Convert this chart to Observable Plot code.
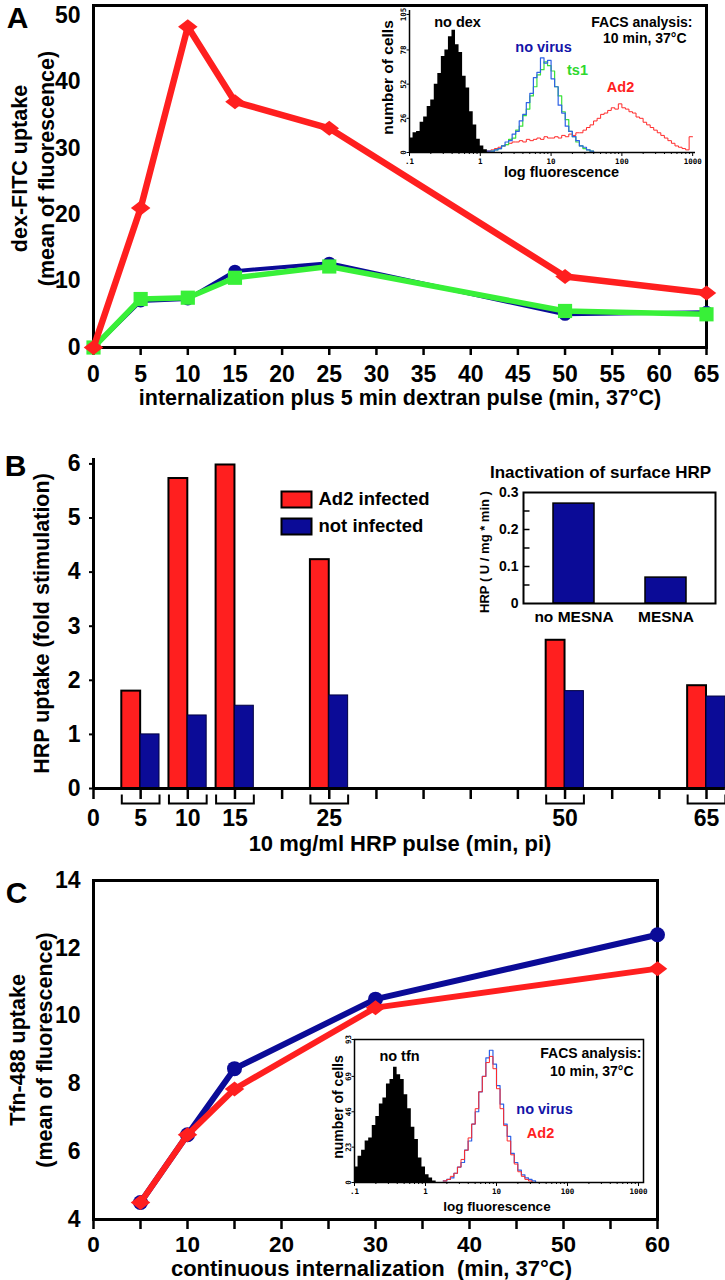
<!DOCTYPE html>
<html><head><meta charset="utf-8">
<script src="https://cdn.jsdelivr.net/npm/d3@7"></script>
<script src="https://cdn.jsdelivr.net/npm/@observablehq/plot@0.6"></script>
<style>
body{margin:0;background:#fff;}
#fig{position:relative;width:725px;height:1280px;overflow:hidden;background:#fff;}
#fig svg{position:absolute;}
</style></head><body><div id="fig"></div>
<script>
// ---------- Panel A data ----------
const timesA = [0, 5, 10, 15, 25, 50, 65];
const ad2A = [0, 21, 48.3, 37, 33, 10.7, 8.2];
const noVirusA = [0, 7, 7.3, 11.5, 12.7, 5, 5.3];
const ts1A = [0, 7.3, 7.5, 10.5, 12.2, 5.5, 5];
const xTicksA = d3.range(0, 66, 5);
const yTicksA = [0, 10, 20, 30, 40, 50];
const titleAx = "internalization plus 5 min dextran pulse (min, 37°C)";
const titleAy = "dex-FITC uptake\n(mean of fluorescence)";

// Panel A inset: FACS histogram counts per channel (20 channels per decade, channel 0 = 0.1)
const histA_noDex_start = 0;
const histA_noDex = [11,15,16,23,27,35,40,52,60,73,78,88,93,82,76,58,49,31,21,10,5,2,1,0];
const histA_noVirus_start = 22;
const histA_noVirus = [1,1,2,3,5,8,9,14,16,24,29,38,45,57,61,72,68,70,56,50,36,30,20,16,12,9,5,4,2,1,0];
const histA_ts1_start = 23;
const histA_ts1 = [1,2,3,5,6,10,11,17,20,28,33,43,50,59,63,69,66,62,50,43,31,25,16,12,8,5,3,2,1,0];
const histA_ad2_start = 22;
const histA_ad2 = [1,2,3,4,5,6,7,8,8,9,8,10,9,10,11,10,12,11,
  11,12,11,13,12,14,13,15,15,17,19,21,24,26,29,30,32,34,33,37,34,33,31,30,27,26,23,21,19,17,15,13,11,9,7,5,4,3,2,12];
const histA_yTicks = [0, 26, 52, 78, 105];
const histDecadeLabels = [".1", "1", "10", "100", "1000"];

// ---------- Panel B data ----------
const timesB = [5, 10, 15, 25, 50, 65];
const ad2B = [1.8, 5.73, 5.98, 4.23, 2.74, 1.9];
const notInfB = [1.0, 1.35, 1.53, 1.72, 1.8, 1.7];
const xTicksB = d3.range(0, 66, 5);
const xLabelsB = [0, 5, 10, 15, 25, 50, 65];
const yTicksB = [0, 1, 2, 3, 4, 5, 6];
const legendB = ["Ad2 infected", "not infected"];
const titleBx = "10 mg/ml HRP pulse (min, pi)";
const titleBy = "HRP uptake (fold stimulation)";
const insetB_cats = ["no MESNA", "MESNA"];
const insetB_vals = [0.27, 0.07];
const insetB_yTicks = [0, 0.1, 0.2, 0.3];
const insetB_minorTicks = [0.05, 0.1, 0.15, 0.2, 0.25];
const insetB_title = "Inactivation of surface HRP";
const insetB_ylabel = "HRP ( U / mg * min )";

// ---------- Panel C data ----------
const timesC = [5, 10, 15, 30, 60];
const noVirusC = [4.5, 6.5, 8.45, 10.5, 12.4];
const ad2C = [4.5, 6.5, 7.85, 10.25, 11.4];
const xTicksC = d3.range(0, 61, 5);
const xLabelsC = [0, 10, 20, 30, 40, 50, 60];
const yTicksC = [4, 6, 8, 10, 12, 14];
const titleCx = "continuous internalization  (min, 37°C)";
const titleCy = "Tfn-488 uptake\n(mean of fluorescence)";
const histC_noTfn_start = 0;
const histC_noTfn = [10,17,21,27,29,37,43,51,55,64,67,75,70,67,57,48,36,28,16,10,5,3,1,0];
const histC_noVirus_start = 25;
const histC_noVirus = [1,2,3,6,10,13,21,27,38,46,59,69,81,86,77,63,51,38,30,19,13,8,5,3,2,1,0];
const histC_ad2_start = 25;
const histC_ad2 = [1,2,4,6,10,15,21,29,38,48,59,69,78,82,74,61,48,37,27,18,12,7,4,2,1,0];
const histC_yTicks = [0, 23, 46, 69, 93];

// ---------- styling ----------
const FONT = "'Liberation Sans', Arial, Helvetica, sans-serif";
const MONO = "'DejaVu Sans Mono', 'Liberation Mono', monospace";
const RED = "#ff1f1f", NAVY = "#0b0b97", GREEN = "#38f038";
const HRED = "#ff2a2a", HBLUE = "#2f62e6", HGREEN = "#3ae23a";
const baseStyle = {fontFamily: FONT, fontWeight: "bold", background: "transparent", overflow: "visible", fontSize: "14px", color: "black"};

const wideDiamond = {draw(ctx, size) {
  const r = Math.sqrt(size / Math.PI);
  ctx.moveTo(-1.3 * r, 0); ctx.lineTo(0, -r); ctx.lineTo(1.3 * r, 0); ctx.lineTo(0, r); ctx.closePath();
}};
const innerTick = {draw(ctx) { ctx.moveTo(0, 0); ctx.lineTo(6, 0); }};

const fig = document.getElementById("fig");
function place(svg, left, top) { svg.style.left = left + "px"; svg.style.top = top + "px"; fig.appendChild(svg); }

function steps(start, counts) {
  const pts = counts.map((n, i) => ({ch: start + i, n}));
  pts.push({ch: start + counts.length, n: counts[counts.length - 1]});
  return pts;
}
const decadeChannels = [0, 20, 40, 60, 80];
const minorChannels = [];
for (let d = 0; d < 4; d++) for (let k = 2; k <= 9; k++) minorChannels.push(20 * (d + Math.log10(k)));
const plain = d => String(d);

// ---------- Panel A ----------
const dataA = timesA.map((t, i) => ({t, ad2: ad2A[i], nv: noVirusA[i], ts1: ts1A[i]}));
place(Plot.plot({
  width: 725, height: 420,
  marginLeft: 93, marginRight: 19, marginTop: 5, marginBottom: 73,
  x: {domain: [0, 65], label: null}, y: {domain: [0, 51.5], label: null},
  style: baseStyle,
  marks: [
    Plot.frame({stroke: "black", strokeWidth: 3}),
    Plot.axisX({ticks: xTicksA, tickSize: 8, strokeWidth: 2.5, tickFormat: () => "", label: null}),
    Plot.axisX({ticks: xTicksA, tickSize: 0, tickPadding: 18, fontSize: 23, tickFormat: plain, label: null}),
    Plot.axisY({ticks: yTicksA, tickSize: 0, tickPadding: 13, fontSize: 23, tickFormat: plain, label: null}),
    Plot.line(dataA, {x: "t", y: "nv", stroke: NAVY, strokeWidth: 4}),
    Plot.dot(dataA, {x: "t", y: "nv", r: 6.5, fill: NAVY}),
    Plot.line(dataA, {x: "t", y: "ts1", stroke: GREEN, strokeWidth: 5.5}),
    Plot.dot(dataA, {x: "t", y: "ts1", r: 8, symbol: "square", fill: GREEN}),
    Plot.line(dataA, {x: "t", y: "ad2", stroke: RED, strokeWidth: 6.5}),
    Plot.dot(dataA, {x: "t", y: "ad2", r: 7.5, symbol: wideDiamond, fill: RED}),
    Plot.text([titleAx], {frameAnchor: "bottom", dy: 51, fontSize: 21.5, lineAnchor: "middle"}),
    Plot.text([titleAy], {frameAnchor: "left", rotate: -90, dx: -62, dy: -8, fontSize: 21.5, textAnchor: "middle", lineAnchor: "middle", lineHeight: 1.25}),
    Plot.text(["A"], {frameAnchor: "top-left", dx: -76, dy: 13, fontSize: 30, textAnchor: "middle", lineAnchor: "middle"})
  ]
}), 0, 0);

// Panel A inset
place(Plot.plot({
  width: 365, height: 185,
  marginLeft: 49, marginRight: 30, marginTop: 10, marginBottom: 33,
  x: {domain: [0, 80.8], label: null}, y: {domain: [0, 108], label: null},
  style: baseStyle,
  marks: [
    Plot.areaY(steps(histA_noDex_start, histA_noDex), {x: "ch", y: "n", curve: "step-after", fill: "black"}),
    Plot.lineY(steps(histA_ad2_start, histA_ad2), {x: "ch", y: "n", curve: "step-after", stroke: HRED, strokeWidth: 1}),
    Plot.lineY(steps(histA_ts1_start, histA_ts1), {x: "ch", y: "n", curve: "step-after", stroke: HGREEN, strokeWidth: 1.2}),
    Plot.lineY(steps(histA_noVirus_start, histA_noVirus), {x: "ch", y: "n", curve: "step-after", stroke: HBLUE, strokeWidth: 1.2}),
    Plot.ruleY([0], {strokeWidth: 1.5}),
    Plot.ruleX([0], {strokeWidth: 1.5}),
    Plot.axisX({ticks: minorChannels, tickSize: 2, tickFormat: () => "", label: null}),
    Plot.axisX({ticks: decadeChannels, tickSize: 4, tickPadding: 2, fontSize: 7.5, fontFamily: MONO, tickFormat: d => histDecadeLabels[decadeChannels.indexOf(d)], label: null}),
    Plot.axisY({ticks: histA_yTicks, tickSize: 2.5, tickPadding: 1, tickRotate: -90, fontSize: 7.5, fontFamily: MONO, tickFormat: plain, label: null}),
    Plot.text(["no dex"], {frameAnchor: "top-left", dx: 48, dy: 12, fontSize: 14.5, textAnchor: "middle", lineAnchor: "middle"}),
    Plot.text(["FACS analysis:"], {frameAnchor: "top-right", dx: -3, dy: 12, fontSize: 14, textAnchor: "end", lineAnchor: "middle"}),
    Plot.text(["10 min, 37°C"], {frameAnchor: "top-right", dx: -9, dy: 28, fontSize: 14, textAnchor: "end", lineAnchor: "middle"}),
    Plot.text(["no virus"], {frameAnchor: "top-left", dx: 134, dy: 37, fontSize: 14.5, fill: "#1414a8", textAnchor: "middle", lineAnchor: "middle"}),
    Plot.text(["ts1"], {frameAnchor: "top-left", dx: 168, dy: 60, fontSize: 14.5, fill: "#2ed82e", textAnchor: "middle", lineAnchor: "middle"}),
    Plot.text(["Ad2"], {frameAnchor: "top-left", dx: 211, dy: 77, fontSize: 14.5, fill: RED, textAnchor: "middle", lineAnchor: "middle"}),
    Plot.text(["number of cells"], {frameAnchor: "left", rotate: -90, dx: -21, dy: -4, fontSize: 15.5, textAnchor: "middle", lineAnchor: "middle"}),
    Plot.text(["log fluorescence"], {frameAnchor: "bottom", dx: 9, dy: 20, fontSize: 14.5, textAnchor: "middle", lineAnchor: "middle"})
  ]
}), 360, 0);

// ---------- Panel B ----------
const barW = 2; // minutes
const dataB = timesB.map((t, i) => ({t, ad2: ad2B[i], ni: notInfB[i]}));
const pxPerMin = (725 - 93 - 19) / 65;
const bracket = {draw(ctx) {
  const w = barW * pxPerMin;
  ctx.moveTo(-w, -9); ctx.lineTo(-w, 0); ctx.lineTo(w, 0); ctx.lineTo(w, -9);
}};
const swatch = {draw(ctx) { ctx.rect(-15, -8, 30, 16); }};
place(Plot.plot({
  width: 725, height: 440,
  marginLeft: 93, marginRight: 19, marginTop: 38, marginBottom: 72,
  x: {domain: [0, 65], label: null}, y: {domain: [0, 6.1], label: null},
  style: baseStyle,
  marks: [
    Plot.rectY(dataB, {x1: d => d.t - barW, x2: "t", y: "ad2", fill: RED, stroke: "black", strokeWidth: 2}),
    Plot.rectY(dataB, {x1: "t", x2: d => d.t + barW, y: "ni", fill: NAVY, stroke: "#000040", strokeWidth: 1}),
    Plot.ruleY([0], {x1: 0, x2: timesB[timesB.length - 1] + barW, strokeWidth: 3}),
    Plot.ruleX([0], {strokeWidth: 3}),
    Plot.axisX({ticks: xTicksB, tickSize: 11, strokeWidth: 2.5, tickFormat: () => "", label: null}),
    Plot.axisX({ticks: xLabelsB, tickSize: 0, tickPadding: 21, fontSize: 23, tickFormat: plain, label: null}),
    Plot.axisY({ticks: yTicksB, tickSize: 4, strokeWidth: 2, tickPadding: 9, fontSize: 23, tickFormat: plain, label: null}),
    Plot.dot(timesB, {x: d => d, y: 0, dy: 15, symbol: bracket, fill: "none", stroke: "black", strokeWidth: 2}),
    Plot.dot([legendB[0]], {frameAnchor: "top-left", dx: 203, dy: 41, symbol: swatch, fill: RED, stroke: "black", strokeWidth: 2}),
    Plot.dot([legendB[1]], {frameAnchor: "top-left", dx: 203, dy: 68, symbol: swatch, fill: NAVY, stroke: "black", strokeWidth: 2}),
    Plot.text([legendB[0]], {frameAnchor: "top-left", dx: 225, dy: 41, fontSize: 18.5, textAnchor: "start", lineAnchor: "middle"}),
    Plot.text([legendB[1]], {frameAnchor: "top-left", dx: 225, dy: 68, fontSize: 18.5, textAnchor: "start", lineAnchor: "middle"}),
    Plot.text([titleBx], {frameAnchor: "bottom", dy: 55, fontSize: 22, lineAnchor: "middle"}),
    Plot.text([titleBy], {frameAnchor: "left", rotate: -90, dx: -51, fontSize: 21.5, textAnchor: "middle", lineAnchor: "middle"}),
    Plot.text(["B"], {frameAnchor: "top-left", dx: -78, dy: 8, fontSize: 30, textAnchor: "middle", lineAnchor: "middle"})
  ]
}), 0, 420);

// Panel B inset
const insetB = insetB_cats.map((c, i) => ({c, v: insetB_vals[i]}));
place(Plot.plot({
  width: 255, height: 170,
  marginLeft: 53, marginRight: 10, marginTop: 32, marginBottom: 27,
  x: {type: "band", domain: insetB_cats, paddingInner: 0.557, paddingOuter: 0.316, label: null},
  y: {domain: [0, 0.3], label: null},
  style: baseStyle,
  marks: [
    Plot.barY(insetB, {x: "c", y: "v", fill: NAVY, stroke: "black", strokeWidth: 1.5}),
    Plot.frame({strokeWidth: 2}),
    Plot.dot(insetB_minorTicks, {y: d => d, frameAnchor: "left", symbol: innerTick, stroke: "black", strokeWidth: 1.5, fill: "none"}),
    Plot.axisY({ticks: insetB_yTicks, tickSize: 0, tickPadding: 5, fontSize: 14, tickFormat: plain, label: null}),
    Plot.axisX({tickSize: 0, tickPadding: 7, fontSize: 15.5, label: null}),
    Plot.text([insetB_title], {frameAnchor: "top", dx: -19, dy: -20, fontSize: 17, lineAnchor: "middle"}),
    Plot.text([insetB_ylabel], {frameAnchor: "left", rotate: -90, dx: -39, dy: 4, fontSize: 13, textAnchor: "middle", lineAnchor: "middle"})
  ]
}), 470, 460);

// ---------- Panel C ----------
const dataC = timesC.map((t, i) => ({t, nv: noVirusC[i], ad2: ad2C[i]}));
place(Plot.plot({
  width: 725, height: 420,
  marginLeft: 93, marginRight: 68, marginTop: 20, marginBottom: 61,
  x: {domain: [0, 60], label: null}, y: {domain: [4, 14], label: null},
  style: baseStyle,
  marks: [
    Plot.frame({strokeWidth: 3}),
    Plot.axisX({ticks: xTicksC, tickSize: 10, strokeWidth: 2.5, tickFormat: () => "", label: null}),
    Plot.axisX({ticks: xLabelsC, tickSize: 0, tickPadding: 17, fontSize: 22.5, tickFormat: plain, label: null}),
    Plot.axisY({ticks: yTicksC, tickSize: 0, tickPadding: 13, fontSize: 23, tickFormat: plain, label: null}),
    Plot.line(dataC, {x: "t", y: "nv", stroke: NAVY, strokeWidth: 6}),
    Plot.dot(dataC, {x: "t", y: "nv", r: 7.5, fill: NAVY}),
    Plot.line(dataC, {x: "t", y: "ad2", stroke: RED, strokeWidth: 6}),
    Plot.dot(dataC, {x: "t", y: "ad2", r: 7.5, symbol: wideDiamond, fill: RED}),
    Plot.text([titleCx], {frameAnchor: "bottom", dx: -4, dy: 49, fontSize: 22, lineAnchor: "middle"}),
    Plot.text([titleCy], {frameAnchor: "left", rotate: -90, dx: -64, fontSize: 21.5, textAnchor: "middle", lineAnchor: "middle", lineHeight: 1.25}),
    Plot.text(["C"], {frameAnchor: "top-left", dx: -77, dy: 13, fontSize: 30, textAnchor: "middle", lineAnchor: "middle"})
  ]
}), 0, 860);

// Panel C inset
place(Plot.plot({
  width: 380, height: 200,
  marginLeft: 64, marginRight: 27, marginTop: 19, marginBottom: 38,
  x: {domain: [0, 81.4], label: null}, y: {domain: [0, 93], label: null},
  style: baseStyle,
  marks: [
    Plot.areaY(steps(histC_noTfn_start, histC_noTfn), {x: "ch", y: "n", curve: "step-after", fill: "black"}),
    Plot.lineY(steps(histC_noVirus_start, histC_noVirus), {x: "ch", y: "n", curve: "step-after", stroke: HBLUE, strokeWidth: 1.2}),
    Plot.lineY(steps(histC_ad2_start, histC_ad2), {x: "ch", y: "n", curve: "step-after", stroke: HRED, strokeWidth: 1}),
    Plot.frame({strokeWidth: 1.5}),
    Plot.axisX({ticks: minorChannels, tickSize: 2, tickFormat: () => "", label: null}),
    Plot.axisX({ticks: decadeChannels, tickSize: 4, tickPadding: 2, fontSize: 7.5, fontFamily: MONO, tickFormat: d => histDecadeLabels[decadeChannels.indexOf(d)], label: null}),
    Plot.axisY({ticks: histC_yTicks, tickSize: 2.5, tickPadding: 1, tickRotate: -90, fontSize: 7.5, fontFamily: MONO, tickFormat: plain, label: null}),
    Plot.text(["no tfn"], {frameAnchor: "top-left", dx: 45, dy: 17, fontSize: 14.5, textAnchor: "middle", lineAnchor: "middle"}),
    Plot.text(["FACS analysis:"], {frameAnchor: "top-right", dx: -2, dy: 14, fontSize: 14, textAnchor: "end", lineAnchor: "middle"}),
    Plot.text(["10 min, 37°C"], {frameAnchor: "top-right", dx: -10, dy: 32, fontSize: 14, textAnchor: "end", lineAnchor: "middle"}),
    Plot.text(["no virus"], {frameAnchor: "top-left", dx: 190, dy: 70, fontSize: 14.5, fill: "#1414a8", textAnchor: "middle", lineAnchor: "middle"}),
    Plot.text(["Ad2"], {frameAnchor: "top-left", dx: 186, dy: 94, fontSize: 14.5, fill: RED, textAnchor: "middle", lineAnchor: "middle"}),
    Plot.text(["number of cells"], {frameAnchor: "left", rotate: -90, dx: -16, dy: -4, fontSize: 14, textAnchor: "middle", lineAnchor: "middle"}),
    Plot.text(["log fluorescence"], {frameAnchor: "bottom", dx: -2, dy: 24, fontSize: 13.5, textAnchor: "middle", lineAnchor: "middle"})
  ]
}), 290, 1020);
</script></body></html>
